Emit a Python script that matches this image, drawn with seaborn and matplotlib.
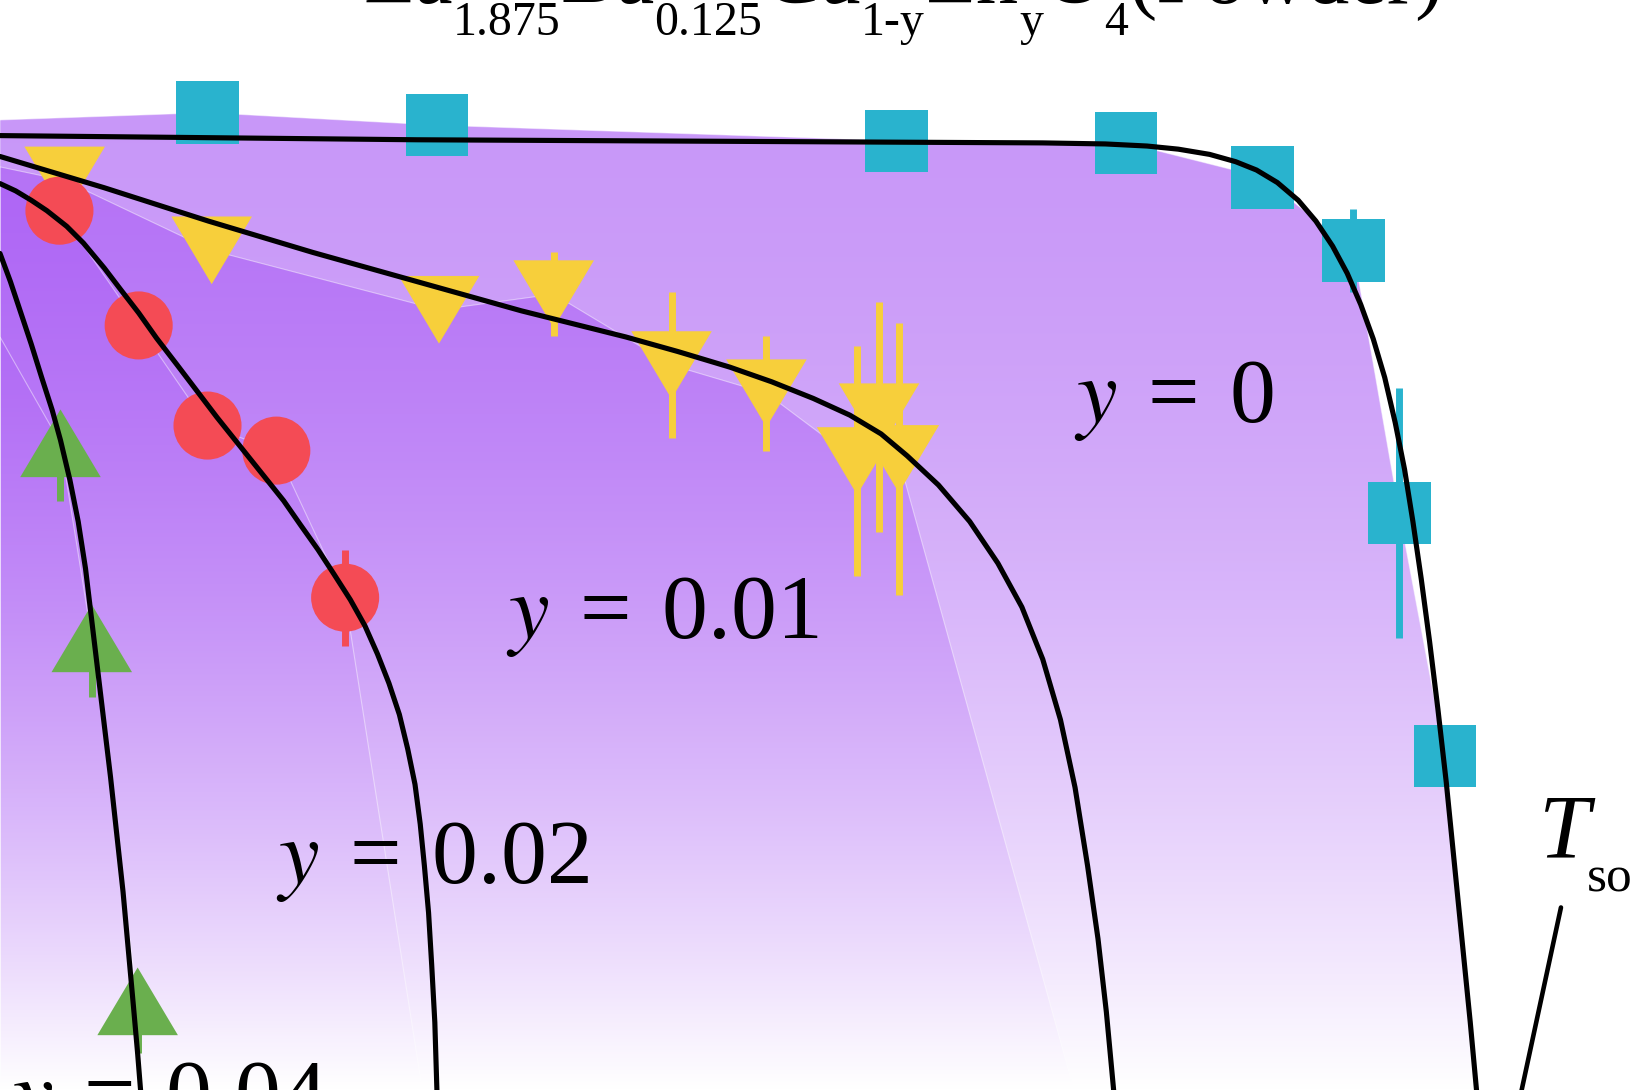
import numpy as np
import matplotlib
matplotlib.use('Agg')
import matplotlib.pyplot as plt
import seaborn as sns
from matplotlib.path import Path
from matplotlib.patches import Polygon

# Data (T in K, normalised order parameter)
sq_T = [19.9, 41.9, 86.0, 108.0, 121.1, 129.8, 134.2, 138.6]
sq_I = [0.937, 0.925, 0.910, 0.908, 0.875, 0.805, 0.553, 0.320]
sq_err = [0.01, 0.01, 0.01, 0.01, 0.01, 0.04, 0.12, 0.01]

yl_T = [6.2, 20.3, 42.1, 53.1, 64.4, 73.5, 82.2, 84.3, 86.2]
yl_I = [0.872, 0.805, 0.748, 0.763, 0.695, 0.668, 0.603, 0.645, 0.605]
yl_err = [0.01, 0.01, 0.01, 0.04, 0.07, 0.055, 0.11, 0.11, 0.13]

rd_T = [5.7, 13.3, 19.9, 26.5, 33.1]
rd_I = [0.843, 0.733, 0.637, 0.613, 0.472]
rd_err = [0.01, 0.01, 0.01, 0.01, 0.046]

gr_T = [5.8, 8.8, 13.2]
gr_I = [0.620, 0.433, 0.085]
gr_err_lo = [0.055, 0.056, 0.05]

# Fitted curves
fit0_T = [0, 20, 40, 60, 80, 100, 106, 110, 113, 116, 118.5, 120.5, 122.5, 124.5, 126.2,
          127.8, 129.2, 130.5, 131.7, 132.8, 133.8, 134.7, 135.5, 136.3, 137.1, 137.9,
          138.7, 139.5, 140.3, 141.0, 141.6, 142.0]
fit0_I = [0.915, 0.913, 0.911, 0.910, 0.909, 0.908, 0.907, 0.905, 0.902, 0.897, 0.890,
          0.882, 0.870, 0.853, 0.833, 0.809, 0.783, 0.753, 0.720, 0.683, 0.640, 0.595,
          0.545, 0.490, 0.430, 0.365, 0.295, 0.215, 0.135, 0.065, 0.0, -0.055]
fit1_T = [0, 10, 20, 30, 40, 50, 60, 65, 70, 74, 78, 81.5, 84.5, 87, 90, 93, 95.7, 98,
          100, 101.7, 103.1, 104.3, 105.3, 106.1, 106.8, 107.2]
fit1_I = [0.895, 0.865, 0.833, 0.803, 0.775, 0.747, 0.722, 0.708, 0.693, 0.679, 0.663,
          0.647, 0.629, 0.608, 0.580, 0.545, 0.505, 0.463, 0.413, 0.355, 0.290, 0.215,
          0.145, 0.075, 0.0, -0.055]
fit2_T = [0, 1.5, 3, 4.5, 6.4, 8, 10, 11.6, 13.3, 15, 17, 18.9, 20.8, 22.4, 24, 25.6,
          27.2, 28.8, 30.5, 32, 33.6, 35, 36.2, 37.3, 38.3, 39.1, 39.8, 40.3, 40.7, 41.1,
          41.4, 41.7, 41.9, 42.0]
fit2_I = [0.869, 0.862, 0.853, 0.843, 0.828, 0.812, 0.788, 0.767, 0.745, 0.721, 0.695,
          0.670, 0.645, 0.625, 0.605, 0.585, 0.565, 0.542, 0.518, 0.495, 0.470, 0.445,
          0.418, 0.390, 0.360, 0.327, 0.293, 0.255, 0.215, 0.170, 0.120, 0.065, 0.0, -0.055]
fit3_T = [0, 1, 2, 3, 4, 5, 5.8, 6.7, 7.5, 8.2, 8.8, 9.4, 10, 10.6, 11.2, 11.8, 12.3,
          12.8, 13.2, 13.6, 13.9]
fit3_I = [0.802, 0.775, 0.745, 0.715, 0.683, 0.652, 0.623, 0.585, 0.545, 0.500, 0.450,
          0.400, 0.350, 0.300, 0.245, 0.190, 0.135, 0.080, 0.035, -0.015, -0.055]

# shaded regions: start value at T=0, end temperature at zero, colour strength
shade_start = [0.93, 0.885, 0.87, 0.722]
shade_end = [141.5, 103.0, 40.5, 13.7]
shade_strength = [0.62, 0.85, 0.93, 0.97]

hs = '\u200a'
labels = [r'$y$ ' + hs + '=' + hs + ' 0', r'$y$ ' + hs + '=' + hs + ' 0.01',
          r'$y$ ' + hs + '=' + hs + ' 0.02', r'$y$ ' + hs + '=' + hs + ' 0.04']
label_T = [103.0, 48.5, 26.5, 1.0]
label_I = [0.640, 0.433, 0.198, -0.032]

pointer_T = [149.7, 145.5]
pointer_I = [0.175, -0.02]

title_parts = [('La', 0), ('1.875', 1), ('Ba', 0), ('0.125', 1), ('Cu', 0), ('1-y', 1),
               ('Zn', 0), ('y', 1), ('O', 0), ('4', 1), ('(Powder)', 0)]

X_MAX, Y_MAX = 156.8, 1.045
c_sq, c_yl, c_rd, c_gr = '#29B3CE', '#F7CF3B', '#F44B55', '#6AAF4E'
purple = np.array([166, 86, 244]) / 255

sns.set_theme(style='white')
plt.rcParams['font.family'] = ['Liberation Serif', 'DejaVu Serif']
plt.rcParams['mathtext.fontset'] = 'stix'
plt.rcParams['text.color'] = 'black'

fig = plt.figure(figsize=(16.35, 10.9), dpi=100)
ax = fig.add_axes([0, 0, 1, 1])
ax.set_axis_off()

# opaque purple-to-white gradient clipped by each data polygon
N = 512
t = np.linspace(0, 1, N)
fade = 1 - t ** 2
series = [(sq_T, sq_I), (yl_T, yl_I), (rd_T, rd_I), (gr_T, gr_I)]
for k, ((sT, sI), s0, s1) in enumerate(zip(series, shade_start, shade_end)):
    top = 1 - (1 - purple) * shade_strength[k]
    grad = np.ones((N, 1, 3))
    grad[:, 0, :] = 1 - np.outer(fade, 1 - top)
    order = np.argsort(sT)
    verts = [(0, s0)] + [(sT[i], sI[i]) for i in order] + [(s1, 0), (s1, -0.2), (0, -0.2)]
    poly = Polygon(verts, closed=True, facecolor='none', edgecolor='white',
                   linewidth=0.8, alpha=0.45, zorder=1.5 + 0.1 * k)
    ax.add_patch(poly)
    im = ax.imshow(grad, extent=(0, X_MAX, 0, Y_MAX), aspect='auto', origin='upper',
                   interpolation='bilinear', zorder=1 + 0.1 * k)
    im.set_clip_path(poly)

# error bars
ax.errorbar(sq_T, sq_I, yerr=sq_err, fmt='none', ecolor=c_sq, elinewidth=5, capsize=0, zorder=3)
ax.errorbar(yl_T, yl_I, yerr=yl_err, fmt='none', ecolor=c_yl, elinewidth=5, capsize=0, zorder=3)
ax.errorbar(rd_T, rd_I, yerr=rd_err, fmt='none', ecolor=c_rd, elinewidth=5, capsize=0, zorder=3)
ax.errorbar(gr_T, gr_I, yerr=[gr_err_lo, [0] * len(gr_T)], fmt='none', ecolor=c_gr,
            elinewidth=5, capsize=0, zorder=3)

tri_up = Path([(0, 0.84), (-1, -0.84), (1, -0.84), (0, 0.84)], closed=True)
tri_dn = Path([(0, -0.84), (-1, 0.84), (1, 0.84), (0, -0.84)], closed=True)

sns.scatterplot(x=sq_T, y=sq_I, marker='s', s=45 ** 2, color=c_sq, edgecolor='none', ax=ax, zorder=4)
sns.scatterplot(x=yl_T, y=yl_I, marker=tri_dn, s=58 ** 2, color=c_yl, edgecolor='none', ax=ax, zorder=4)
sns.scatterplot(x=rd_T, y=rd_I, marker='o', s=49 ** 2, color=c_rd, edgecolor='none', ax=ax, zorder=4)
sns.scatterplot(x=gr_T, y=gr_I, marker=tri_up, s=58 ** 2, color=c_gr, edgecolor='none', ax=ax, zorder=4)

for fT, fI in [(fit0_T, fit0_I), (fit1_T, fit1_I), (fit2_T, fit2_I), (fit3_T, fit3_I)]:
    sns.lineplot(x=fT, y=fI, sort=False, estimator=None, color='black', linewidth=3.7,
                 ax=ax, zorder=6)
ax.plot(pointer_T, pointer_I, color='black', linewidth=3.3, zorder=6)

for lab, lx, ly in zip(labels, label_T, label_I):
    ax.text(lx, ly, lab, fontsize=66, color='black', va='baseline', ha='left', zorder=7)

ax.text(147.6, 0.223, 'T', fontsize=66, fontstyle='italic', color='black', va='baseline', zorder=7)
ax.text(152.2, 0.190, 'so', fontsize=37, color='black', va='baseline', zorder=7)

ax.set_xlim(0, X_MAX)
ax.set_ylim(0, Y_MAX)

# title, cut off by the top edge
fig.canvas.draw()
renderer = fig.canvas.get_renderer()
W = fig.get_figwidth() * fig.dpi
H = fig.get_figheight() * fig.dpi
x = 363.0
for txt, sub in title_parts:
    fs = 61 if not sub else 34.5
    yb = 1 - (35 if sub else 3) / H
    tt = fig.text(x / W, yb, txt, fontsize=fs, color='black', va='baseline', ha='left')
    x += tt.get_window_extent(renderer).width

fig.savefig('out.png', dpi=100)
